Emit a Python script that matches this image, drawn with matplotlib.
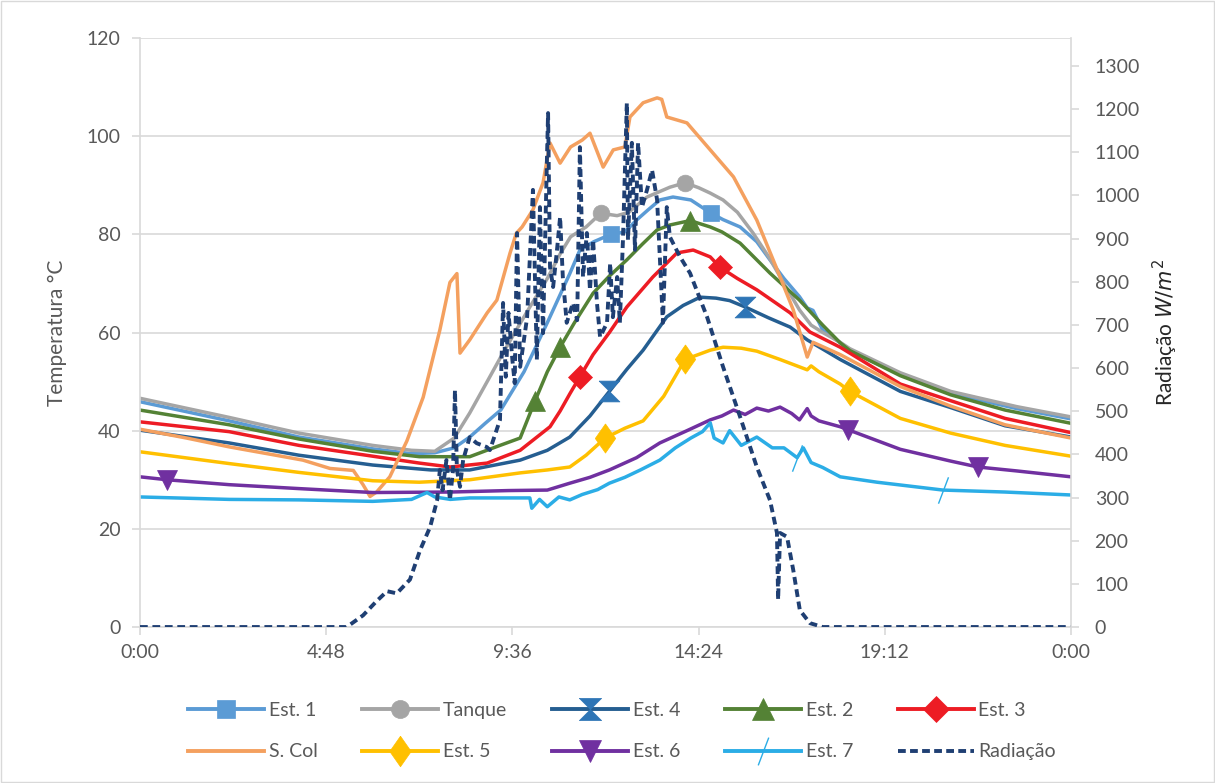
import numpy as np
import matplotlib.pyplot as plt
from matplotlib.lines import Line2D
from matplotlib.patches import Rectangle

plt.rcParams['font.family'] = ['Lato', 'DejaVu Sans']
plt.rcParams['mathtext.fontset'] = 'dejavusans'

# time in hours since 0:00, temperatures in degC, radiation in W/m2
est1_h = [0, 2.3, 4.1, 6.0, 7.0, 7.6, 8.1, 8.5, 8.9, 9.3, 9.9, 10.5, 11.08, 11.34, 11.7, 12.14, 12.5, 12.8, 13.1,
          13.4, 13.74, 14.2, 14.72, 15.03, 15.47, 15.9, 16.24, 16.6, 17.0, 17.2, 17.35, 17.6, 18.05, 18.3, 19.6,
          20.9, 22.6, 24]
est1_t = [45.9, 42.0, 38.7, 36.3, 35.3, 35.5, 36.5, 38.7, 41.5, 44.2, 52.0, 62.0, 72.0, 76.8, 78.5, 80.0, 80.5,
          82.9, 85.0, 87.0, 87.6, 87.0, 84.3, 83.0, 81.5, 78.5, 74.8, 71.0, 67.3, 65.0, 64.5, 60.5, 57.9, 56.2,
          51.5, 47.6, 44.5, 42.4]

tanque_h = [0, 2.3, 4.1, 6.0, 7.0, 7.6, 8.1, 8.5, 8.95, 9.3, 9.7, 10.05, 10.5, 10.83, 11.1, 11.5, 11.88, 12.3,
            12.6, 13.07, 13.66, 14.05, 14.4, 14.7, 15.03, 15.4, 15.8, 16.2, 16.6, 17.0, 17.3, 17.6, 18.05, 18.3,
            19.6, 20.9, 22.6, 24]
tanque_t = [46.6, 42.7, 39.5, 37.0, 36.0, 35.8, 38.5, 43.6, 50.0, 55.0, 60.5, 65.2, 71.0, 76.0, 79.5, 81.5, 84.3,
            83.8, 84.5, 87.6, 89.6, 90.5, 89.5, 88.4, 87.0, 84.5, 80.3, 75.5, 70.0, 64.6, 61.5, 60.0, 58.0, 56.7,
            51.8, 48.0, 44.9, 42.8]

est4_h = [0, 2.3, 4.1, 6.0, 7.5, 8.5, 9.8, 10.5, 11.08, 11.6, 12.1, 12.55, 12.97, 13.58, 14.0, 14.44, 14.85, 15.2,
          15.6, 16.2, 16.76, 17.2, 18.05, 19.6, 20.9, 22.3, 24]
est4_t = [40.1, 37.5, 35.0, 33.0, 32.0, 32.0, 34.0, 36.0, 38.7, 43.0, 48.0, 52.5, 56.4, 63.2, 65.5, 67.2, 67.0,
          66.5, 65.2, 63.0, 61.1, 58.5, 54.5, 48.0, 44.7, 41.0, 38.7]

est2_h = [0, 2.3, 4.1, 6.0, 7.2, 8.5, 9.28, 9.8, 10.18, 10.5, 10.83, 11.2, 11.68, 12.1, 12.55, 12.95, 13.33,
          13.66, 14.18, 14.7, 15.0, 15.47, 16.24, 17.0, 17.6, 18.05, 18.3, 19.6, 20.9, 22.3, 24]
est2_t = [44.2, 41.2, 38.3, 35.8, 34.7, 34.7, 37.0, 38.5, 46.0, 52.0, 57.0, 62.0, 68.0, 71.5, 74.8, 78.0, 80.9,
          81.9, 82.8, 81.5, 80.5, 78.2, 72.1, 66.6, 61.5, 57.9, 56.3, 51.2, 47.3, 44.2, 41.5]

est3_h = [0, 2.3, 4.1, 6.0, 7.2, 8.0, 8.95, 9.8, 10.57, 10.83, 11.08, 11.34, 11.68, 12.1, 12.55, 13.22, 13.84,
          14.26, 14.7, 14.95, 15.4, 15.9, 16.76, 17.27, 18.05, 19.6, 20.9, 22.3, 24]
est3_t = [41.8, 39.8, 37.0, 34.8, 33.4, 32.6, 33.4, 36.0, 40.8, 44.0, 47.5, 51.0, 55.5, 60.0, 65.2, 71.3, 76.2,
          76.8, 75.4, 73.3, 71.0, 68.7, 64.0, 60.1, 57.0, 49.5, 46.1, 42.5, 39.6]

scol_h = [0, 1.2, 2.3, 3.5, 4.2, 4.9, 5.5, 5.75, 5.93, 6.1, 6.44, 6.88, 7.3, 7.73, 7.99, 8.17, 8.25, 8.5, 8.95,
          9.2, 9.54, 9.7, 9.85, 10.13, 10.39, 10.57, 10.83, 11.1, 11.4, 11.6, 11.94, 12.2, 12.5, 12.63, 12.97,
          13.33, 13.45, 13.58, 14.1, 14.7, 15.3, 15.9, 16.4, 16.84, 17.2, 17.35, 18.05, 19.6, 20.9, 22.3, 24]
scol_t = [40.3, 38.5, 36.7, 35.0, 34.0, 32.3, 31.9, 29.0, 26.6, 27.5, 30.6, 37.9, 46.8, 60.5, 70.2, 72.0, 55.8,
          58.5, 64.0, 66.6, 76.2, 80.2, 81.5, 85.0, 90.5, 98.6, 94.5, 97.8, 99.2, 100.6, 93.7, 97.2, 97.8, 103.9,
          106.8, 107.8, 107.5, 103.9, 102.7, 97.2, 91.7, 82.9, 73.3, 64.6, 55.0, 58.0, 55.5, 49.0, 45.0, 41.2,
          38.5]

est5_h = [0, 2.3, 4.1, 6.0, 7.2, 8.5, 9.8, 10.5, 11.08, 11.5, 11.99, 12.5, 12.97, 13.5, 14.05, 14.7, 15.03, 15.5,
          15.9, 16.5, 17.2, 17.3, 17.5, 18.05, 18.3, 19.6, 20.9, 22.3, 24]
est5_t = [35.7, 33.3, 31.5, 29.8, 29.5, 30.0, 31.4, 32.0, 32.6, 35.0, 38.5, 40.5, 42.0, 47.0, 54.5, 56.4, 57.0,
          56.8, 56.2, 54.5, 52.4, 53.2, 52.0, 49.5, 48.0, 42.5, 39.5, 37.0, 34.8]

est6_h = [0, 0.7, 2.3, 4.1, 6.0, 8.0, 9.5, 10.5, 11.08, 11.6, 12.1, 12.8, 13.4, 14.1, 14.7, 15.0, 15.3, 15.6,
          15.9, 16.2, 16.5, 16.8, 17.0, 17.2, 17.3, 17.5, 18.05, 18.25, 19.6, 20.9, 21.6, 22.6, 24]
est6_t = [30.6, 30.0, 29.0, 28.2, 27.4, 27.5, 27.8, 27.9, 29.3, 30.5, 32.0, 34.5, 37.5, 40.0, 42.2, 43.0, 44.2,
          43.3, 44.6, 44.0, 44.8, 43.5, 42.2, 44.5, 43.0, 42.0, 40.8, 40.2, 36.2, 33.8, 32.6, 31.8, 30.6]

est7_h = [0, 2.3, 4.1, 6.0, 7.0, 7.4, 7.6, 8.0, 8.5, 9.0, 10.05, 10.1, 10.3, 10.5, 10.8, 11.08, 11.4, 11.8, 12.1,
          12.5, 12.9, 13.4, 13.8, 14.2, 14.5, 14.7, 14.8, 15.03, 15.2, 15.5, 15.9, 16.3, 16.6, 16.94, 17.1, 17.3,
          17.6, 18.05, 19.0, 20.7, 22.3, 24]
est7_t = [26.5, 26.0, 25.9, 25.6, 26.0, 27.4, 26.5, 26.0, 26.3, 26.3, 26.3, 24.2, 26.0, 24.5, 26.5, 25.9, 27.0,
          28.0, 29.3, 30.5, 32.0, 34.0, 36.5, 38.5, 39.8, 41.6, 38.5, 37.5, 40.0, 37.0, 38.7, 36.5, 36.5, 34.5,
          36.5, 33.5, 32.5, 30.6, 29.5, 27.9, 27.5, 26.9]

rad_h = [0, 5.2, 5.33, 5.75, 6.1, 6.37, 6.62, 6.96, 7.22, 7.48, 7.66, 7.73, 7.8, 7.9, 7.99, 8.07, 8.12, 8.17, 8.25,
         8.33, 8.5, 8.68, 8.94, 9.02, 9.28, 9.36, 9.43, 9.5, 9.6, 9.66, 9.72, 9.8, 9.98, 10.13, 10.23, 10.31, 10.39,
         10.49, 10.52, 10.57, 10.65, 10.75, 10.83, 10.9, 11.0, 11.16, 11.27, 11.34, 11.42, 11.52, 11.6, 11.68,
         11.78, 11.86, 12.04, 12.12, 12.19, 12.3, 12.37, 12.45, 12.55, 12.58, 12.68, 12.76, 12.84, 12.94, 13.07,
         13.2, 13.33, 13.4, 13.48, 13.58, 13.66, 13.92, 14.18, 14.62, 15.03, 15.47, 15.9, 16.24, 16.42, 16.45,
         16.5, 16.68, 16.84, 17.01, 17.27, 17.6, 24]
rad_w = [0, 0, 0, 27, 60, 83, 78, 110, 178, 232, 294, 364, 317, 387, 294, 364, 549, 364, 325, 387, 440, 426, 417,
         410, 480, 751, 580, 728, 619, 565, 913, 603, 718, 1013, 619, 973, 681, 1082, 1191, 834, 788, 874, 950,
         811, 705, 751, 711, 1112, 811, 913, 781, 897, 751, 672, 705, 843, 718, 811, 705, 897, 1214, 897, 1122,
         874, 1122, 973, 1013, 1059, 990, 858, 705, 973, 904, 858, 820, 718, 603, 487, 371, 294, 218, 63, 218,
         209, 132, 39, 9, 0, 0]

# hours where Excel put a marker on each series
est1_marks = [12.14, 14.72]
tanque_marks = [11.88, 14.05]
est4_marks = [12.1, 15.6]
est2_marks = [10.18, 10.83, 14.18]
est3_marks = [11.34, 14.95]
est5_marks = [11.99, 14.05, 18.3]
est6_marks = [0.7, 18.25, 21.6]
est7_marks = [16.94, 20.7]

x_ticks = [0, 4.8, 9.6, 14.4, 19.2, 24]
x_labels = ['0:00', '4:48', '9:36', '14:24', '19:12', '0:00']

hourglass = [(-1, 1), (1, 1), (-1, -1), (1, -1), (-1, 1)]
tall_diamond = [(0, 1), (0.7, 0), (0, -1), (-0.7, 0), (0, 1)]
slash = [(-0.38, -1), (0.38, 1)]

# name, hours, temps, line colour, marker, marker colour, marker size, marker hours
series = [
    ('Est. 1', est1_h, est1_t, '#5B9BD5', 's', '#5B9BD5', 12, est1_marks),
    ('Tanque', tanque_h, tanque_t, '#A5A5A5', 'o', '#A5A5A5', 12, tanque_marks),
    ('Est. 4', est4_h, est4_t, '#255E91', hourglass, '#2E75B6', 15, est4_marks),
    ('Est. 2', est2_h, est2_t, '#548235', '^', '#548235', 15, est2_marks),
    ('Est. 3', est3_h, est3_t, '#ED1C24', 'D', '#ED1C24', 12, est3_marks),
    ('S. Col', scol_h, scol_t, '#F4A05F', None, '#F4A05F', 0, []),
    ('Est. 5', est5_h, est5_t, '#FFC000', tall_diamond, '#FFC000', 21, est5_marks),
    ('Est. 6', est6_h, est6_t, '#7030A0', 'v', '#7030A0', 15, est6_marks),
    ('Est. 7', est7_h, est7_t, '#2BADE6', slash, '#2BADE6', 19, est7_marks),
]

rad_color = '#1F3F73'
grid_color = '#D9D9D9'
text_color = '#595959'

fig = plt.figure(figsize=(12.15, 7.83), dpi=100)
ax = fig.add_axes([0.1152, 0.1992, 0.7663, 0.7523])
ax2 = ax.twinx()

handles = {}
for name, h, t, col, mk, mcol, ms, marks in series:
    h = np.array(h)
    idx = [int(np.argmin(np.abs(h - m))) for m in marks]
    is_slash = mk is slash
    ax.plot(h, t, color=col, lw=2.5, solid_joinstyle='round',
            marker=mk if marks else None, markevery=idx if marks else None,
            ms=ms, mfc='none' if is_slash else mcol, mec=mcol,
            mew=1.0 if is_slash else 0.5)
    handles[name] = Line2D([], [], color=col, lw=2.8, marker=mk, ms=ms + 1,
                           mfc='none' if is_slash else mcol, mec=mcol,
                           mew=1.0 if is_slash else 0.5)

ax2.plot(rad_h, rad_w, color=rad_color, lw=2.8, dashes=(2.0, 1.2))
handles['Radiação'] = Line2D([], [], color=rad_color, lw=2.8, dashes=(2.0, 1.1))

ax.set_xlim(0, 24)
ax.set_ylim(0, 120)
ax2.set_ylim(0, 1365)
ax.set_xticks(x_ticks)
ax.set_xticklabels(x_labels)
ax.set_yticks(range(0, 121, 20))
ax2.set_yticks(range(0, 1301, 100))

ax.yaxis.grid(True, color=grid_color, lw=1.2)
ax.set_axisbelow(True)

for a in (ax, ax2):
    for s in a.spines.values():
        s.set_visible(False)
ax.spines['left'].set_visible(True)
ax.spines['bottom'].set_visible(True)
ax2.spines['right'].set_visible(True)
for s in (ax.spines['left'], ax.spines['bottom'], ax2.spines['right']):
    s.set_color(grid_color)
    s.set_linewidth(1.2)

ax.tick_params(axis='y', length=6, width=1.2, color=grid_color, labelcolor=text_color, labelsize=14, pad=8)
ax.tick_params(axis='x', length=6, width=1.2, color=grid_color, labelcolor=text_color, labelsize=14, pad=6)
ax2.tick_params(axis='y', length=6, width=1.2, color=grid_color, labelcolor=text_color, labelsize=14, pad=11)

ax.set_ylabel('Temperatura °C', color=text_color, fontsize=15, labelpad=14)
ax2.set_ylabel('Radiação $W/m^2$', color='#262626', fontsize=15, labelpad=8)

# legend laid out as in the reference: two rows, filled row by row
row1 = ['Est. 1', 'Tanque', 'Est. 4', 'Est. 2', 'Est. 3']
row2 = ['S. Col', 'Est. 5', 'Est. 6', 'Est. 7', 'Radiação']
order = [n for pair in zip(row1, row2) for n in pair]
fig.legend([handles[n] for n in order], order, loc='center', bbox_to_anchor=(0.512, 0.066),
           ncol=5, frameon=False, fontsize=14, handlelength=3.9, handletextpad=0.25,
           columnspacing=2.3, labelspacing=1.25, labelcolor=text_color)

fig.patches.append(Rectangle((0.001, 0.001), 0.998, 0.998, transform=fig.transFigure,
                             fill=False, edgecolor=grid_color, lw=1))

fig.savefig('out.png', dpi=100)
